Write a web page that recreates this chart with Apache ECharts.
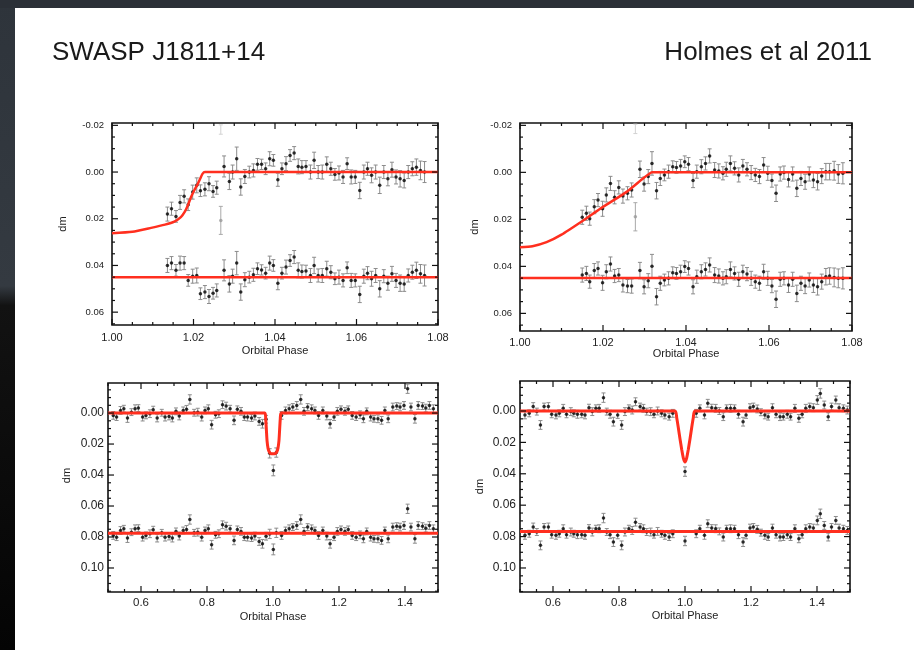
<!DOCTYPE html>
<html>
<head>
<meta charset="utf-8">
<title>SWASP J1811+14</title>
<script src="https://cdn.jsdelivr.net/npm/echarts@6.0.0/dist/echarts.min.js"></script>
<style>
  html, body { margin: 0; padding: 0; background: #fff; }
  #main { width: 914px; height: 650px; }
</style>
</head>
<body>
<div id="main"></div>
<script>
// 左上图 [phase, dm, err]
let p1Top = [
  [1.0136,0.018,0.003],[1.0146,0.0157,0.0028],[1.0157,0.019,0.0025],[1.0167,0.013,0.003],[1.0177,0.0104,0.0028],[1.0187,0.014,0.0025],[1.0198,0.0086,0.003],[1.0208,0.0057,0.0032],[1.0217,0.008,0.0025],[1.0228,0.0074,0.0028],
  [1.0238,0.005,0.003],[1.0248,0.0083,0.0025],[1.0257,0.0067,0.0028],[1.0275,-0.0024,0.0045],[1.0288,0.004,0.0035],[1.0296,0.0,0.003],[1.0306,-0.0057,0.005],[1.0316,0.0064,0.0035],[1.0326,0.0019,0.003],[1.0337,0.0,0.0025],
  [1.0347,-0.0007,0.0028],[1.0357,-0.0033,0.0025],[1.0367,-0.0033,0.0022],[1.0377,-0.0014,0.0025],[1.0387,-0.0057,0.003],[1.0396,-0.005,0.0025],[1.0407,0.0033,0.0028],[1.0417,-0.0014,0.0025],[1.0427,-0.0036,0.003],[1.0437,-0.0071,0.0025],
  [1.0447,-0.0081,0.0028],[1.0457,-0.0024,0.0032],[1.0466,-0.0021,0.0028],[1.0476,-0.0024,0.0025],[1.0487,0.0,0.003],[1.0496,-0.005,0.0035],[1.0506,0.0,0.0028],[1.0516,0.0,0.003],[1.0527,-0.0033,0.0032],[1.0537,-0.0014,0.0028],
  [1.0547,0.001,0.0025],[1.0557,0.0004,0.003],[1.0567,0.0021,0.0028],[1.0577,-0.0036,0.0025],[1.0587,0.0021,0.003],[1.0597,0.0021,0.0028],[1.0608,0.0079,0.0035],[1.0618,0.0,0.003],[1.0627,-0.0014,0.0028],[1.0637,0.0014,0.0032],
  [1.0647,0.0,0.003],[1.0657,0.0057,0.0035],[1.0667,0.0,0.0028],[1.0677,0.0029,0.003],[1.0687,-0.001,0.0032],[1.0697,0.0021,0.003],[1.0707,0.0029,0.0035],[1.0717,0.0036,0.0032],[1.0727,0.0,0.0028],[1.0737,-0.0014,0.003],
  [1.0747,-0.0021,0.0035],[1.0757,-0.0007,0.004],[1.0767,0.0,0.0045]
];
let p1Res = [
  0.04,0.039,0.0421,0.039,0.039,0.0464,0.0446,0.0443,0.0521,0.0514,
  0.0533,0.0519,0.0507,0.0421,0.0479,0.0446,0.039,0.0514,0.0461,0.045,
  0.044,0.0414,0.0419,0.0433,0.039,0.04,0.0476,0.0433,0.0407,0.0379,
  0.0364,0.0421,0.0426,0.0424,0.0443,0.04,0.0443,0.0443,0.0414,0.0429,
  0.0457,0.045,0.0464,0.041,0.0464,0.0464,0.0524,0.0446,0.0433,0.0457,
  0.0443,0.05,0.0446,0.0476,0.0436,0.0464,0.0476,0.0479,0.0443,0.0429,
  0.0421,0.0436,0.0443
];
let p1Grey = [[1.0267,0.0207,0.006]];
let p1Faint = [[1.0267,-0.0182,0.002]];
let p1Model = [[1.000,0.0262],[1.005,0.0256],[1.0096,0.0239],[1.013,0.0225],[1.0153,0.0212],[1.0169,0.0193],[1.0178,0.0172],[1.0186,0.0143],[1.0194,0.0107],[1.0202,0.0078],[1.021,0.0053],[1.0216,0.003],[1.0222,0.0008],[1.0228,0],[1.08,0]];
let p1Level = [[1.00,0.045],[1.08,0.045]];

// 右上图
let p2Top = [
  [1.0150,0.0191,0.003],[1.0160,0.0174,0.003],[1.0168,0.0197,0.0028],[1.0179,0.0146,0.003],[1.0188,0.0118,0.0028],[1.0199,0.0155,0.0032],[1.0208,0.0096,0.003],[1.0218,0.0047,0.003],[1.0228,0.0106,0.0028],[1.0238,0.0064,0.0028],
  [1.0248,0.0101,0.003],[1.0259,0.0089,0.0028],[1.0269,0.0075,0.003],[1.0289,-0.0013,0.0035],[1.0299,0.005,0.003],[1.0309,0.0018,0.003],[1.0318,-0.0038,0.005],[1.0329,0.0078,0.0035],[1.0338,0.0026,0.003],[1.0348,0.0011,0.0025],
  [1.0358,-0.0003,0.0028],[1.0368,-0.0024,0.0025],[1.0377,-0.0021,0.0025],[1.0387,-0.0027,0.0028],[1.0397,-0.0045,0.0025],[1.0406,-0.0035,0.0028],[1.0417,0.0035,0.003],[1.0426,-0.0003,0.0028],[1.0437,-0.0024,0.003],[1.0447,-0.0038,0.0028],
  [1.0457,-0.007,0.003],[1.0469,-0.001,0.0032],[1.0479,-0.0006,0.003],[1.0489,0.0004,0.0028],[1.0497,-0.0013,0.003],[1.0507,-0.0038,0.0032],[1.0517,-0.0017,0.0028],[1.0527,0.0011,0.003],[1.0537,-0.0027,0.0028],[1.0547,-0.0013,0.0028],
  [1.0557,0.0001,0.003],[1.0567,0.0011,0.0028],[1.0577,0.0018,0.003],[1.0587,-0.0031,0.0032],[1.0597,0.0004,0.003],[1.0607,0.0035,0.0028],[1.0617,0.0089,0.0035],[1.0627,0.0007,0.003],[1.0636,0.0001,0.0028],[1.0647,0.003,0.0032],
  [1.0657,0.0007,0.003],[1.0667,0.0068,0.0035],[1.0677,0.0026,0.003],[1.0687,0.004,0.0032],[1.0697,0.0007,0.003],[1.0707,0.0033,0.0032],[1.0717,0.004,0.0035],[1.0727,0.0016,0.0032],[1.0737,-0.0003,0.0035],[1.0746,-0.0003,0.0035],
  [1.0757,-0.0007,0.004],[1.0767,0.0007,0.004],[1.0778,0.0004,0.0045]
];
let p2Res = [
  0.0437,0.043,0.0465,0.0418,0.0409,0.047,0.0423,0.039,0.0441,0.0437,
  0.0479,0.0484,0.0484,0.0418,0.0487,0.0461,0.0399,0.0529,0.0472,0.0458,
  0.0451,0.0427,0.043,0.0423,0.0401,0.0409,0.0487,0.0444,0.0423,0.0413,
  0.0394,0.0437,0.0441,0.0451,0.0444,0.0413,0.043,0.0455,0.0423,0.0433,
  0.0451,0.0465,0.0472,0.0423,0.0451,0.0484,0.054,0.0455,0.0451,0.0479,
  0.0455,0.0515,0.0472,0.0484,0.0458,0.0479,0.0487,0.0465,0.0444,0.0441,
  0.0447,0.0451,0.0451
];
let p2Grey = [[1.0278,0.0189,0.006]];
let p2Faint = [[1.0278,-0.0185,0.002]];
let p2Model = [[1.000,0.0319],[1.003,0.0314],[1.0064,0.0297],[1.010,0.0265],[1.0152,0.0205],[1.020,0.0147],[1.0257,0.0083],[1.0297,0.0025],[1.031,0.0008],[1.0318,0],[1.08,0]];
let p2Level = [[1.00,0.045],[1.08,0.045]];

// 左下图
let p3Top = [
  [0.516,0.0015,0.0025],[0.526,0.0026,0.0022],[0.538,-0.0017,0.0025],[0.548,-0.0028,0.0022],[0.559,0.0032,0.0028],[0.571,-0.0006,0.0022],[0.582,-0.0028,0.0025],[0.592,-0.0032,0.0022],[0.605,0.0026,0.0025],[0.615,0.0015,0.0022],
  [0.627,0.0004,0.0025],[0.637,-0.0022,0.0022],[0.649,0.0032,0.0025],[0.663,-0.0002,0.0022],[0.673,0.0026,0.0025],[0.685,0.0022,0.0022],[0.695,0.0032,0.0025],[0.706,-0.0011,0.0022],[0.716,0.0019,0.0025],[0.728,-0.0017,0.0022],
  [0.738,-0.0024,0.0025],[0.748,-0.0088,0.003],[0.761,-0.0002,0.0022],[0.772,-0.0006,0.0025],[0.784,0.0026,0.0025],[0.794,-0.0017,0.0022],[0.804,-0.0028,0.0025],[0.814,0.0075,0.0028],[0.826,0.0011,0.0022],[0.836,0.0004,0.0025],
  [0.847,-0.0054,0.0025],[0.858,-0.0045,0.0025],[0.870,-0.0028,0.0022],[0.882,0.0047,0.0028],[0.892,-0.0024,0.0022],[0.903,-0.0011,0.0025],[0.913,0.0026,0.0022],[0.923,0.0026,0.0025],[0.935,0.0032,0.0022],[0.945,0.0019,0.0025],
  [0.958,0.0054,0.0025],[0.968,0.0069,0.0028],[0.979,0.004,0.0025],[0.990,0.026,0.003],[1.001,0.037,0.0035],[1.010,0.0255,0.003],[1.026,0.0015,0.0025],[1.038,-0.0017,0.0022],[1.049,-0.0028,0.0025],[1.060,-0.0039,0.0022],
  [1.072,-0.0049,0.0025],[1.084,-0.0088,0.003],[1.094,-0.0011,0.0025],[1.105,-0.0039,0.0022],[1.117,-0.0028,0.0025],[1.127,-0.0017,0.0022],[1.138,0.0015,0.0025],[1.151,-0.0017,0.0022],[1.163,0.0019,0.0025],[1.173,0.0069,0.0028],
  [1.185,0.0026,0.0022],[1.195,-0.0011,0.0025],[1.206,-0.0024,0.0022],[1.218,-0.0011,0.0025],[1.228,-0.0024,0.0022],[1.240,0.0015,0.0025],[1.252,0.0026,0.0022],[1.264,0.0011,0.0025],[1.274,0.0037,0.0025],[1.284,-0.0011,0.0022],
  [1.296,0.0026,0.0025],[1.306,0.0037,0.0022],[1.318,0.0037,0.0025],[1.329,0.0047,0.0025],[1.339,-0.0017,0.0022],[1.349,0.0037,0.0025],[1.363,-0.0039,0.0025],[1.375,-0.0045,0.0022],[1.385,-0.0039,0.0025],[1.397,-0.0049,0.0025],
  [1.408,-0.0157,0.003],[1.418,-0.0039,0.0025],[1.430,0.0037,0.0028],[1.440,-0.0049,0.0025],[1.453,-0.0045,0.0022],[1.463,-0.0032,0.0025],[1.474,-0.0049,0.0025],[1.486,-0.0028,0.0025]
];
let p3Res = [
  0.079,0.0801,0.0758,0.0747,0.0807,0.0769,0.0747,0.0743,0.0801,0.079,
  0.0779,0.0753,0.0807,0.0773,0.0801,0.0797,0.0807,0.0764,0.0794,0.0758,
  0.0751,0.0687,0.0773,0.0769,0.0801,0.0758,0.0747,0.085,0.0786,0.0779,
  0.0721,0.073,0.0747,0.0822,0.0751,0.0764,0.0801,0.0801,0.0807,0.0794,
  0.0829,0.0844,0.0795,0.078,0.088,0.0773,0.079,0.0758,0.0747,0.0736,
  0.0726,0.0687,0.0764,0.0736,0.0747,0.0758,0.079,0.0758,0.0794,0.0844,
  0.0801,0.0764,0.0751,0.0764,0.0751,0.079,0.0801,0.0786,0.0812,0.0764,
  0.0801,0.0812,0.0812,0.0822,0.0758,0.0812,0.0736,0.073,0.0736,0.0726,
  0.0618,0.0736,0.0812,0.0726,0.073,0.0743,0.0726,0.0747
];
let p3Model = [[0.5,0],[0.9755,0],[0.978,0.004],[0.980,0.011],[0.982,0.018],[0.985,0.0228],[0.989,0.0252],[0.995,0.0262],[1.005,0.0262],[1.011,0.0252],[1.015,0.0228],[1.018,0.018],[1.020,0.011],[1.022,0.004],[1.0245,0],[1.5,0]];
let p3Level = [[0.5,0.0775],[1.5,0.0775]];

// 右下图
let p4Top = [
  [0.515,0.0025,0.0025],[0.528,0.0015,0.0022],[0.540,-0.0028,0.0025],[0.551,0.0004,0.0022],[0.562,0.0089,0.0028],[0.573,-0.0028,0.0022],[0.586,-0.0028,0.0025],[0.596,0.0021,0.0022],[0.609,0.0025,0.0025],[0.619,0.0015,0.0022],
  [0.631,-0.0017,0.0025],[0.641,0.0021,0.0022],[0.654,0.0004,0.0025],[0.663,0.0015,0.0022],[0.674,0.0021,0.0025],[0.687,0.0021,0.0022],[0.697,0.0025,0.0025],[0.709,-0.0021,0.0022],[0.719,0.0004,0.0025],[0.730,-0.0017,0.0022],
  [0.740,-0.0017,0.0025],[0.753,-0.0085,0.003],[0.763,0.0004,0.0022],[0.773,0.0021,0.0025],[0.783,0.0068,0.0028],[0.796,0.0025,0.0022],[0.808,0.0089,0.0028],[0.818,0.0004,0.0025],[0.830,-0.0017,0.0022],[0.840,-0.0006,0.0025],
  [0.850,-0.0059,0.0025],[0.864,-0.0028,0.0022],[0.874,-0.0017,0.0025],[0.884,0.0004,0.0022],[0.896,0.0004,0.0025],[0.906,0.0021,0.0022],[0.917,0.0,0.0025],[0.929,0.0015,0.0022],[0.939,0.0025,0.0025],[0.952,0.0036,0.0022],
  [0.963,0.0015,0.0025],[1.000,0.0386,0.003],[1.034,0.0015,0.0025],[1.045,-0.0017,0.0022],[1.059,0.0025,0.0025],[1.069,-0.0049,0.0025],[1.081,-0.0021,0.0022],[1.093,-0.0017,0.0025],[1.104,0.0,0.0022],[1.116,0.0036,0.0025],
  [1.126,-0.0017,0.0022],[1.138,-0.0017,0.0025],[1.150,-0.0017,0.0022],[1.162,0.0021,0.0025],[1.176,0.0068,0.0028],[1.185,0.0025,0.0022],[1.197,-0.0021,0.0025],[1.207,-0.0028,0.0022],[1.219,-0.0013,0.0025],[1.230,0.0008,0.0022],
  [1.242,0.0025,0.0025],[1.252,0.0036,0.0022],[1.265,-0.0021,0.0025],[1.276,0.0021,0.0022],[1.288,0.0036,0.0025],[1.298,0.0036,0.0022],[1.310,0.0021,0.0025],[1.320,0.0036,0.0022],[1.333,-0.0017,0.0025],[1.345,0.0047,0.0025],
  [1.355,0.0021,0.0022],[1.366,-0.0017,0.0025],[1.378,-0.0028,0.0022],[1.389,-0.0021,0.0025],[1.401,-0.007,0.0028],[1.410,-0.0112,0.003],[1.422,-0.0038,0.0025],[1.434,0.0036,0.0025],[1.444,-0.0028,0.0022],[1.457,-0.007,0.0025],
  [1.467,-0.0021,0.0025],[1.480,-0.0017,0.0022],[1.492,-0.0006,0.0025]
];
let p4Res = [
  0.0792,0.0782,0.0739,0.0771,0.0856,0.0739,0.0739,0.0788,0.0792,0.0782,
  0.075,0.0788,0.0771,0.0782,0.0788,0.0788,0.0792,0.0746,0.0771,0.075,
  0.075,0.0682,0.0771,0.0788,0.0835,0.0792,0.0856,0.0771,0.075,0.0761,
  0.0708,0.0739,0.075,0.0771,0.0771,0.0788,0.0767,0.0782,0.0792,0.0803,
  0.0782,0.0828,0.0782,0.075,0.0792,0.0718,0.0746,0.075,0.0767,0.0803,
  0.075,0.075,0.075,0.0788,0.0835,0.0792,0.0746,0.0739,0.0754,0.0775,
  0.0792,0.0803,0.0746,0.0788,0.0803,0.0803,0.0788,0.0803,0.075,0.0814,
  0.0788,0.075,0.0739,0.0746,0.0697,0.0655,0.0729,0.0803,0.0739,0.0697,
  0.0746,0.075,0.0761
];
let p4Model = [[0.5,0],[0.970,0],[0.975,0.0045],[0.980,0.011],[0.985,0.018],[0.990,0.0245],[0.995,0.030],[1.000,0.0325],[1.005,0.030],[1.010,0.0245],[1.015,0.018],[1.020,0.011],[1.025,0.0045],[1.030,0],[1.5,0]];
let p4Level = [[0.5,0.0767],[1.5,0.0767]];

// 刻度
let topXTicks = [1.00, 1.02, 1.04, 1.06, 1.08];
let topYTicks = [-0.02, 0.00, 0.02, 0.04, 0.06];
let botXTicks = [0.6, 0.8, 1.0, 1.2, 1.4];
let botYTicks = [0.00, 0.02, 0.04, 0.06, 0.08, 0.10];

const font = 'Liberation Sans, Arial, Helvetica, sans-serif';
const red = '#ff2f1f';

let panels = [
  { top: p1Top, res: p1Res, grey: p1Grey, faint: p1Faint, model: p1Model, level: p1Level,
    grid: { left: 112, top: 123, width: 326, height: 202 }, x: [1.00, 1.08], y: [-0.021, 0.0655],
    xTicks: topXTicks, yTicks: topYTicks, xStep: 0.005, yStep: 0.005, digits: 2,
    xFont: 11, yFont: 9.5, xMargin: 7, yMargin: 8, xGap: 20, yGap: 44, yPad: 0, lw: 2.5 },
  { top: p2Top, res: p2Res, grey: p2Grey, faint: p2Faint, model: p2Model, level: p2Level,
    grid: { left: 520, top: 123, width: 332, height: 208 }, x: [1.00, 1.08], y: [-0.021, 0.0675],
    xTicks: topXTicks, yTicks: topYTicks, xStep: 0.005, yStep: 0.005, digits: 2,
    xFont: 11, yFont: 9.5, xMargin: 6, yMargin: 8, xGap: 17, yGap: 40, yPad: 0, lw: 2.5 },
  { top: p3Top, res: p3Res, grey: [], faint: [], model: p3Model, level: p3Level,
    grid: { left: 108, top: 383, width: 330, height: 209 }, x: [0.5, 1.5], y: [-0.0194, 0.1155],
    xTicks: botXTicks, yTicks: botYTicks, xStep: 0.05, yStep: 0.005, digits: 1,
    xFont: 11.5, yFont: 12, xMargin: 5, yMargin: 4, xGap: 19, yGap: 36, yPad: 24, lw: 3 },
  { top: p4Top, res: p4Res, grey: [], faint: [], model: p4Model, level: p4Level,
    grid: { left: 520, top: 381, width: 330, height: 211 }, x: [0.5, 1.5], y: [-0.0191, 0.1153],
    xTicks: botXTicks, yTicks: botYTicks, xStep: 0.05, yStep: 0.005, digits: 1,
    xFont: 11.5, yFont: 12, xMargin: 5, yMargin: 4, xGap: 18, yGap: 35, yPad: 0, lw: 3 },
];

// 误差棒
function errItem(color, cap) {
  return function (params, api) {
    let x = api.value(0), y = api.value(1), e = api.value(2);
    let a = api.coord([x, y - e]);
    let b = api.coord([x, y + e]);
    let st = { stroke: color, lineWidth: 1 };
    return { type: 'group', children: [
      { type: 'line', shape: { x1: a[0], y1: a[1], x2: b[0], y2: b[1] }, style: st },
      { type: 'line', shape: { x1: a[0] - cap, y1: a[1], x2: a[0] + cap, y2: a[1] }, style: st },
      { type: 'line', shape: { x1: b[0] - cap, y1: b[1], x2: b[0] + cap, y2: b[1] }, style: st },
    ] };
  };
}

// 四边刻度 [value, major, dim]
function tickList(p) {
  let d = [];
  p.xTicks.forEach(v => d.push([v, 1, 0]));
  p.yTicks.forEach(v => d.push([v, 1, 1]));
  let addMinor = (lo, hi, step, majors, dim) => {
    for (let k = Math.ceil(lo / step - 1e-6); k * step <= hi + 1e-9; k++) {
      let v = +(k * step).toFixed(4);
      if (!majors.some(m => Math.abs(m - v) < step / 10)) d.push([v, 0, dim]);
    }
  };
  addMinor(p.x[0], p.x[1], p.xStep, p.xTicks, 0);
  addMinor(p.y[0], p.y[1], p.yStep, p.yTicks, 1);
  return d;
}

let option = {
  animation: false,
  backgroundColor: '#ffffff',
  title: [
    { text: 'SWASP J1811+14', left: 52, top: 40, padding: 0,
      textStyle: { fontSize: 26, fontWeight: 'normal', color: '#1a1a1a', fontFamily: font } },
    { text: 'Holmes et al 2011', right: 42, top: 40, padding: 0,
      textStyle: { fontSize: 26, fontWeight: 'normal', color: '#1a1a1a', fontFamily: font } },
  ],
  graphic: [
    { type: 'rect', shape: { x: 0, y: 0, width: 15, height: 650 },
      style: { fill: new echarts.graphic.LinearGradient(0, 0, 0, 1, [
        { offset: 0, color: '#2e343b' }, { offset: 0.44, color: '#343a41' },
        { offset: 0.47, color: '#121212' }, { offset: 1, color: '#040404' }]) } },
    { type: 'rect', shape: { x: 0, y: 0, width: 914, height: 8 }, style: { fill: '#2b3037' } },
  ],
  grid: [], xAxis: [], yAxis: [], series: [],
};

panels.forEach((p, i) => {
  option.grid.push(Object.assign({ show: true, borderColor: '#111', borderWidth: 1.6, backgroundColor: 'transparent' }, p.grid));
  option.xAxis.push({
    type: 'value', gridIndex: i, min: p.x[0], max: p.x[1],
    name: 'Orbital Phase', nameLocation: 'middle', nameGap: p.xGap,
    nameTextStyle: { fontSize: 11, color: '#222', fontFamily: font },
    axisLine: { show: false }, axisTick: { show: false }, splitLine: { show: false },
    axisLabel: { customValues: p.xTicks, margin: p.xMargin, fontSize: p.xFont, color: '#222', fontFamily: font,
      formatter: v => v.toFixed(p.digits) },
  });
  option.yAxis.push({
    type: 'value', gridIndex: i, min: p.y[0], max: p.y[1], inverse: true,
    name: 'dm', nameLocation: 'middle', nameGap: p.yGap,
    nameTextStyle: { fontSize: 11, color: '#222', fontFamily: font, padding: [0, 0, 0, p.yPad] },
    axisLine: { show: false }, axisTick: { show: false }, splitLine: { show: false },
    axisLabel: { customValues: p.yTicks, margin: p.yMargin, fontSize: p.yFont, color: '#222', fontFamily: font,
      formatter: v => v.toFixed(2) },
  });

  let lower = p.top.map((d, k) => [d[0], p.res[k], d[2]]);
  let ax = { xAxisIndex: i, yAxisIndex: i };

  [p.top, lower].forEach(data => {
    option.series.push(Object.assign({ type: 'custom', data: data, encode: { x: 0, y: 1 }, z: 2, silent: true,
      renderItem: errItem('#8c8c8c', 2) }, ax));
    option.series.push(Object.assign({ type: 'scatter', data: data.map(d => [d[0], d[1]]), symbolSize: 3.5,
      itemStyle: { color: '#000' }, z: 3, silent: true }, ax));
  });
  if (p.grey.length) {
    option.series.push(Object.assign({ type: 'custom', data: p.grey, encode: { x: 0, y: 1 }, z: 2, silent: true,
      renderItem: errItem('#a8a8a8', 2) }, ax));
    option.series.push(Object.assign({ type: 'scatter', data: p.grey.map(d => [d[0], d[1]]), symbolSize: 3.5,
      itemStyle: { color: '#9a9a9a' }, z: 3, silent: true }, ax));
    option.series.push(Object.assign({ type: 'custom', data: p.faint, encode: { x: 0, y: 1 }, z: 2, silent: true,
      renderItem: errItem('#d2d2d2', 2) }, ax));
  }

  [p.model, p.level].forEach(data => {
    option.series.push(Object.assign({ type: 'line', data: data, showSymbol: false, smooth: 0.2, z: 4, silent: true,
      lineStyle: { color: red, width: p.lw } }, ax));
  });

  option.series.push(Object.assign({ type: 'custom', data: tickList(p), encode: { x: 0, y: 1 }, z: 5, silent: true,
    renderItem: (params, api) => {
      let v = api.value(0), len = api.value(1) ? 6 : 3, dim = api.value(2);
      let cs = params.coordSys, st = { stroke: '#111', lineWidth: 1.2 };
      let seg = (x1, y1, x2, y2) => ({ type: 'line', shape: { x1, y1, x2, y2 }, style: st });
      if (dim === 0) {
        let px = api.coord([v, p.y[0]])[0];
        return { type: 'group', children: [
          seg(px, cs.y + cs.height, px, cs.y + cs.height - len), seg(px, cs.y, px, cs.y + len)] };
      }
      let py = api.coord([p.x[0], v])[1];
      return { type: 'group', children: [
        seg(cs.x, py, cs.x + len, py), seg(cs.x + cs.width, py, cs.x + cs.width - len, py)] };
    } }, ax));
});

let chart = echarts.init(document.getElementById('main'));
chart.setOption(option);
</script>
</body>
</html>
